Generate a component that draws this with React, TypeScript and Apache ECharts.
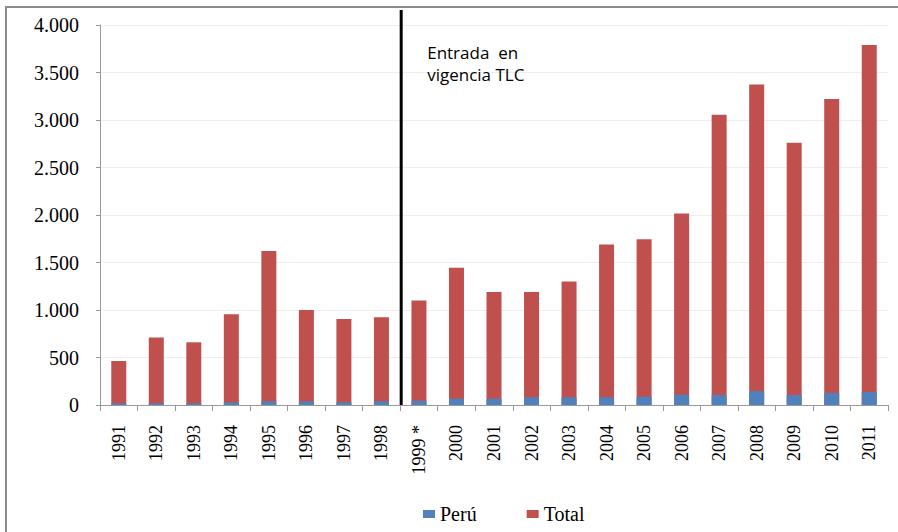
import React, { useEffect, useRef } from "react";
import * as echarts from "echarts";

const years = ["1991", "1992", "1993", "1994", "1995", "1996", "1997", "1998", "1999 *", "2000", "2001", "2002", "2003", "2004", "2005", "2006", "2007", "2008", "2009", "2010", "2011"];
const peru = [18, 18, 18, 28, 39, 39, 28, 39, 45, 66, 66, 81, 81, 81, 88, 109, 105, 147, 105, 126, 137];
const total = [463, 710, 660, 955, 1620, 1000, 905, 925, 1100, 1445, 1190, 1190, 1300, 1690, 1745, 2015, 3055, 3375, 2760, 3220, 3790];
const yTicks = [0, 500, 1000, 1500, 2000, 2500, 3000, 3500, 4000];
const annotation = "Entrada  en\nvigencia TLC";
const boundaryBefore = "1999 *";

const serif = "Liberation Serif";

export default function App() {
  const ref = useRef<HTMLDivElement>(null);
  useEffect(() => {
    if (!ref.current) return;
    const chart = echarts.init(ref.current, null, { renderer: "svg" });
    const fmt = (v: number) => String(v).replace(/\B(?=(\d{3})+(?!\d))/g, ".");
    chart.setOption({
      animation: false,
      backgroundColor: "#ffffff",
      textStyle: { fontFamily: serif },
      grid: { left: 100, right: 10, top: 25, bottom: 127 },
      legend: {
        data: ["Perú", "Total"],
        left: 418,
        top: 499,
        itemWidth: 12,
        itemHeight: 8,
        itemGap: 50,
        icon: "rect",
        textStyle: { fontFamily: serif, fontSize: 20, color: "#000" },
      },
      xAxis: {
        type: "category",
        data: years,
        boundaryGap: true,
        axisLine: { lineStyle: { color: "#999", width: 1 } },
        axisTick: { show: true, length: 6, lineStyle: { color: "#999" } },
        axisLabel: { rotate: 90, margin: 20, fontFamily: serif, fontSize: 18, color: "#000", interval: 0 },
      },
      yAxis: {
        type: "value",
        min: yTicks[0],
        max: yTicks[yTicks.length - 1],
        interval: 500,
        axisLine: { show: true, lineStyle: { color: "#999" } },
        axisTick: { show: true, length: 4, lineStyle: { color: "#999" } },
        splitLine: { lineStyle: { color: "#eeeeee" } },
        axisLabel: { margin: 21, fontFamily: serif, fontSize: 20, color: "#000", formatter: fmt },
      },
      series: [
        {
          name: "Total",
          type: "bar",
          data: total,
          barWidth: 15,
          itemStyle: { color: "#C0504D" },
          z: 2,
        },
        {
          name: "Perú",
          type: "bar",
          data: peru,
          barWidth: 15,
          barGap: "-100%",
          itemStyle: { color: "#4F81BD" },
          z: 3,
        },
      ],
    });
    const idx = years.indexOf(boundaryBefore);
    const xa = chart.convertToPixel({ xAxisIndex: 0 }, years[idx - 1]) as number;
    const xb = chart.convertToPixel({ xAxisIndex: 0 }, years[idx]) as number;
    const xm = (xa + xb) / 2 + 1;
    const y0 = chart.convertToPixel({ yAxisIndex: 0 }, 0) as number;
    chart.setOption({
      graphic: [
        {
          type: "rect",
          shape: { x: 6, y: 7, width: 1000, height: 1000 },
          style: { fill: "none", stroke: "#8c8c8c", lineWidth: 2 },
          silent: true,
        },
        {
          type: "line",
          shape: { x1: xm, y1: 10, x2: xm, y2: y0 },
          style: { stroke: "#000", lineWidth: 3 },
          z: 10,
        },
        {
          type: "text",
          x: xm + 26,
          y: 41,
          style: {
            text: annotation,
            fontFamily: "Open Sans",
            fontSize: 17,
            lineHeight: 22,
            fill: "#000",
          },
          z: 10,
        },
      ],
    });
    return () => chart.dispose();
  }, []);
  return <div ref={ref} style={{ position: "fixed", left: 0, top: 0, width: 898, height: 532 }} />;
}
